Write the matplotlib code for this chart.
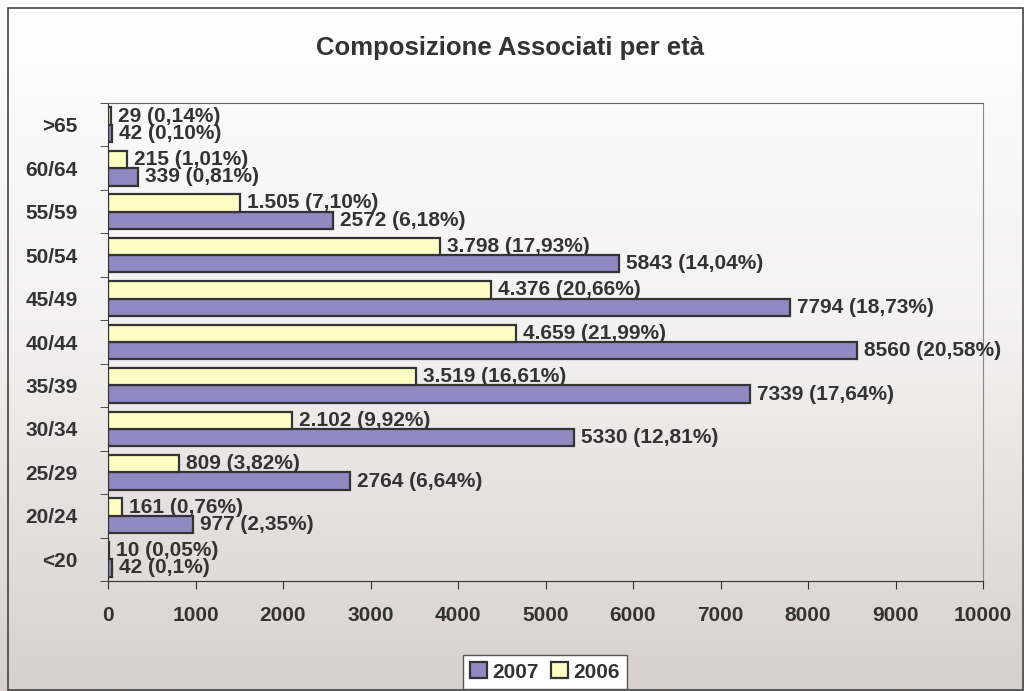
import numpy as np
import matplotlib.pyplot as plt
from matplotlib.colors import LinearSegmentedColormap
from matplotlib.patches import Rectangle, Patch

plt.rcParams['font.family'] = ['Liberation Sans', 'DejaVu Sans']
plt.rcParams['font.weight'] = 'bold'

categories = ['<20', '20/24', '25/29', '30/34', '35/39', '40/44',
              '45/49', '50/54', '55/59', '60/64', '>65']
vals_2007 = [42, 977, 2764, 5330, 7339, 8560, 7794, 5843, 2572, 339, 42]
vals_2006 = [10, 161, 809, 2102, 3519, 4659, 4376, 3798, 1505, 215, 29]
labels_2007 = ['42 (0,1%)', '977 (2,35%)', '2764 (6,64%)', '5330 (12,81%)',
               '7339 (17,64%)', '8560 (20,58%)', '7794 (18,73%)',
               '5843 (14,04%)', '2572 (6,18%)', '339 (0,81%)', '42 (0,10%)']
labels_2006 = ['10 (0,05%)', '161 (0,76%)', '809 (3,82%)', '2.102 (9,92%)',
               '3.519 (16,61%)', '4.659 (21,99%)', '4.376 (20,66%)',
               '3.798 (17,93%)', '1.505 (7,10%)', '215 (1,01%)', '29 (0,14%)']

txt = '#333333'
purple = '#9189c2'
yellow = '#ffffc4'
fs = 15

fig = plt.figure(figsize=(10.24, 6.91), dpi=100)

# background gradient over the whole chart
bg = fig.add_axes([0, 0, 1, 1], zorder=-10)
grad = np.linspace(0, 1, 256).reshape(-1, 1)
cmap = LinearSegmentedColormap.from_list('g', ['#ffffff', '#f2f0f0', '#d8d0ce'])
bg.imshow(grad, aspect='auto', cmap=cmap, extent=[0, 1, 1, 0])
bg.set_xlim(0, 1)
bg.set_ylim(1, 0)
bg.axis('off')
bg.add_patch(Rectangle((8 / 1024, 8 / 691), 1 - 9 / 1024, 1 - 9 / 691,
                       fill=False, edgecolor='#444444', lw=1.2))

ax = fig.add_axes([108 / 1024, 1 - 581 / 691, (983 - 108) / 1024, (581 - 103) / 691])
ax.patch.set_alpha(0)

y = np.arange(len(categories))
h = 0.4
ax.barh(y - h / 2, vals_2007, height=h, color=purple, edgecolor='#333333', lw=1.6, label='2007')
ax.barh(y + h / 2, vals_2006, height=h, color=yellow, edgecolor='#333333', lw=1.6, label='2006')

for i in range(len(categories)):
    ax.text(vals_2007[i] + 80, y[i] - h / 2, labels_2007[i], va='center', ha='left',
            fontsize=fs, color=txt, fontweight='bold', clip_on=False)
    ax.text(vals_2006[i] + 80, y[i] + h / 2, labels_2006[i], va='center', ha='left',
            fontsize=fs, color=txt, fontweight='bold', clip_on=False)

ax.set_xlim(0, 10000)
ax.set_ylim(-0.5, len(categories) - 0.5)
ax.set_xticks(range(0, 10001, 1000))
ax.set_yticks(y)
ax.set_yticklabels(categories)
ax.set_yticks(np.arange(-0.5, len(categories), 1), minor=True)
ax.tick_params(axis='y', which='major', length=0, pad=22, labelsize=fs, labelcolor=txt)
ax.tick_params(axis='y', which='minor', length=6, direction='out', color='#333333')
ax.tick_params(axis='x', length=6, direction='out', pad=12, labelsize=fs, labelcolor=txt,
               color='#333333')
for lab in ax.get_xticklabels() + ax.get_yticklabels():
    lab.set_fontweight('bold')
ax.spines['left'].set_color('#333333')
ax.spines['bottom'].set_color('#333333')
ax.spines['top'].set_color('#666666')
ax.spines['right'].set_color('#888888')

fig.text(510 / 1024, 1 - 55 / 691, 'Composizione Associati per età', ha='center', va='baseline',
         fontsize=18.5, fontweight='bold', color=txt)

handles = [Patch(facecolor=purple, edgecolor='#333333', lw=1.6, label='2007'),
           Patch(facecolor=yellow, edgecolor='#333333', lw=1.6, label='2006')]
leg = fig.legend(handles=handles, loc='center', bbox_to_anchor=(545 / 1024, 1 - 672 / 691),
                 ncol=2, frameon=True, fancybox=False, fontsize=fs, handlelength=0.8,
                 handleheight=0.8, handletextpad=0.25, columnspacing=0.6, borderpad=0.35)
leg.get_frame().set_edgecolor('#555555')
leg.get_frame().set_facecolor('white')
leg.get_frame().set_alpha(1)
for t in leg.get_texts():
    t.set_color(txt)
    t.set_fontweight('bold')

fig.savefig('out.png', dpi=100)
